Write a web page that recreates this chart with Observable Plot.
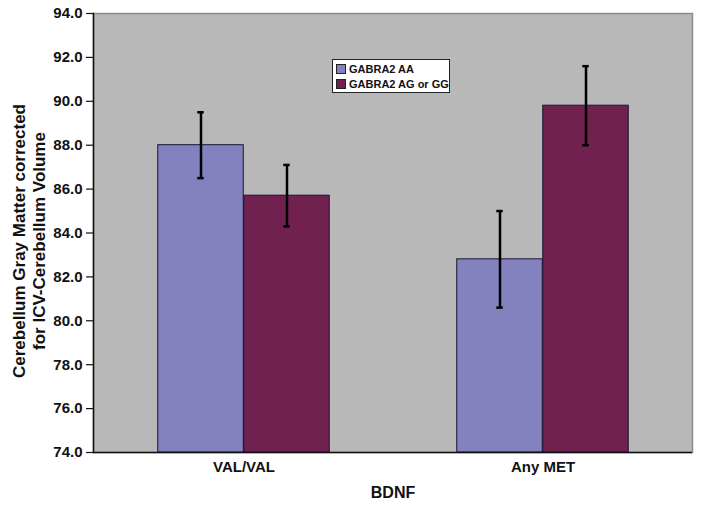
<!DOCTYPE html>
<html>
<head>
<meta charset="utf-8">
<script src="https://cdn.jsdelivr.net/npm/d3@7"></script>
<script src="https://cdn.jsdelivr.net/npm/@observablehq/plot@0.6"></script>
<style>
  html, body { margin: 0; padding: 0; background: #fff; }
  #wrap { position: relative; width: 701px; height: 505px; font-family: "Liberation Sans", Arial, sans-serif; }
  #legend { position: absolute; left: 332px; top: 59px; width: 118px; height: 34px; background: #fff; border: 1px solid #222; padding: 1px 0 0 3px; box-sizing: border-box; font-weight: bold; font-size: 11px; color: #111; }
  #legend .row { display: flex; align-items: center; height: 15.5px; }
  #legend .sw { width: 8px; height: 8px; border: 1px solid #222; margin-right: 3px; }
</style>
</head>
<body>
<div id="wrap"></div>
<script>
const categories = ["VAL/VAL", "Any MET"];
const groups = ["GABRA2 AA", "GABRA2 AG or GG"];
const colors = ["#8481bf", "#70214f"];
const aaMeans = [88.0, 82.8];
const aaErrors = [1.5, 2.2];
const agMeans = [85.7, 89.8];
const agErrors = [1.4, 1.8];
const yTicks = [74, 76, 78, 80, 82, 84, 86, 88, 90, 92, 94];
const yLabel = "Cerebellum Gray Matter corrected\nfor ICV-Cerebellum Volume";
const xLabel = "BDNF";

const aa = categories.map((c, i) => ({cat: c, group: groups[0], mean: aaMeans[i], err: aaErrors[i]}));
const ag = categories.map((c, i) => ({cat: c, group: groups[1], mean: agMeans[i], err: agErrors[i]}));

const bandHalf = 299.5 / 2, barW = 86, capW = 7;
const barOpts = (left) => left
  ? {insetLeft: bandHalf - barW, insetRight: bandHalf}
  : {insetLeft: bandHalf, insetRight: bandHalf - barW};
const capOpts = (left) => left
  ? {insetLeft: bandHalf - barW / 2 - capW / 2, insetRight: bandHalf + barW / 2 - capW / 2}
  : {insetLeft: bandHalf + barW / 2 - capW / 2, insetRight: bandHalf - barW / 2 - capW / 2};

function series(data, left, color) {
  return [
    Plot.barY(data, {x: "cat", y1: () => 74, y2: "mean", fill: color, stroke: "#1b1530", strokeWidth: 1, ...barOpts(left)}),
    Plot.ruleX(data, {x: "cat", y1: d => d.mean - d.err, y2: d => d.mean + d.err, stroke: "#000", strokeWidth: 2.5, dx: left ? -barW / 2 : barW / 2}),
    Plot.tickY(data, {x: "cat", y: d => d.mean + d.err, stroke: "#000", strokeWidth: 2.5, ...capOpts(left)}),
    Plot.tickY(data, {x: "cat", y: d => d.mean - d.err, stroke: "#000", strokeWidth: 2.5, ...capOpts(left)})
  ];
}

const chart = Plot.plot({
  width: 701,
  height: 505,
  marginLeft: 93,
  marginRight: 9,
  marginTop: 13,
  marginBottom: 53,
  style: {fontFamily: "'Liberation Sans', Arial, sans-serif", fontWeight: "bold", fontSize: "15px", color: "#111"},
  x: {domain: categories, padding: 0},
  y: {domain: [74, 94]},
  marks: [
    Plot.frame({fill: "#b8b8b8", stroke: "#8a8a8a", strokeWidth: 1.5}),
    ...series(aa, true, colors[0]),
    ...series(ag, false, colors[1]),
    Plot.ruleY([74], {stroke: "#111", strokeWidth: 1.5}),
    Plot.frame({anchor: "left", stroke: "#111", strokeWidth: 1.5}),
    Plot.axisY({ticks: yTicks, tickFormat: d3.format(".1f"), tickSize: 7, tickPadding: 4, label: null, fontSize: 15, fontWeight: "bold", stroke: "#111", strokeWidth: 1.2}),
    Plot.axisX({tickSize: 0, tickPadding: 9, label: null, fontSize: 15, fontWeight: "bold"}),
    Plot.text([yLabel], {frameAnchor: "left", rotate: -90, dx: -65, dy: 8, fontSize: 17, fontWeight: "bold", lineHeight: 1.18, textAnchor: "middle", lineAnchor: "middle"}),
    Plot.text([xLabel], {frameAnchor: "bottom", dy: 40, fontSize: 16, fontWeight: "bold", lineAnchor: "middle"})
  ]
});

const wrap = document.getElementById("wrap");
wrap.appendChild(chart);
const legend = document.createElement("div");
legend.id = "legend";
legend.innerHTML = groups.map((g, i) => `<div class="row"><span class="sw" style="background:${colors[i]}"></span>${g}</div>`).join("");
wrap.appendChild(legend);
</script>
</body>
</html>
